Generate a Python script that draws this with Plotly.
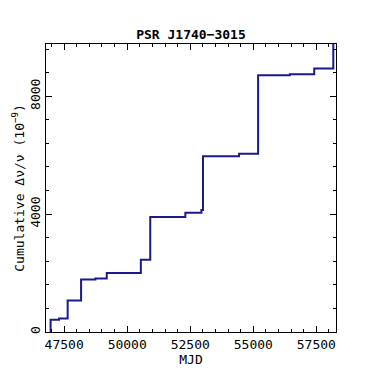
import plotly.graph_objects as go

# glitch epochs (MJD) and cumulative delta-nu/nu (1e-9) after each step
mjd = [46963, 46963, 47297, 47639, 48171, 48740, 49189, 50541, 50914,
       52306, 52942, 53005, 54436, 55191, 56450, 57417, 58173, 58300]
cum = [0, 417, 455, 1071, 1783, 1817, 2000, 2450, 3900,
       4044, 4140, 5963, 6044, 8713, 8740, 8940, 9900, 9900]

font_mono = "DejaVu Sans Mono, monospace"

fig = go.Figure()
fig.add_trace(go.Scatter(
    x=mjd, y=cum, mode="lines", line_shape="hv",
    line=dict(color="#1a1a8c", width=2), showlegend=False,
))

axis_common = dict(
    showline=True, linecolor="black", linewidth=1, mirror="allticks",
    ticks="inside", ticklen=6, tickcolor="black", showgrid=False, zeroline=False,
    tickfont=dict(family=font_mono, size=13, color="black"),
    automargin=False, tickformat="d",
)

fig.update_xaxes(
    range=[46780, 58280], dtick=2500, tick0=0,
    minor=dict(ticks="inside", dtick=500, ticklen=3, tickcolor="black"),
    title=dict(text="MJD", font=dict(family=font_mono, size=13, color="black"), standoff=2),
    **axis_common,
)
fig.update_yaxes(
    range=[0, 9770], dtick=4000, tick0=0, tickangle=-90,
    minor=dict(ticks="inside", dtick=800, ticklen=3, tickcolor="black"),
    title=dict(text="Cumulative Δν/ν (10<sup>−9</sup>)",
               font=dict(family=font_mono, size=13, color="black"), standoff=0),
    **axis_common,
)

# page body has an 8px margin, so offsets are shifted accordingly
fig.update_layout(
    width=374, height=374,
    margin=dict(l=38, r=46, t=36, b=50),
    paper_bgcolor="white", plot_bgcolor="white",
    title=dict(text="<b>PSR J1740−3015</b>", x=(38 + 0.5 * 290) / 374, xanchor="center",
               y=0.93, yanchor="middle",
               font=dict(family=font_mono, size=13, color="black")),
)

fig.write_html("out.html")
